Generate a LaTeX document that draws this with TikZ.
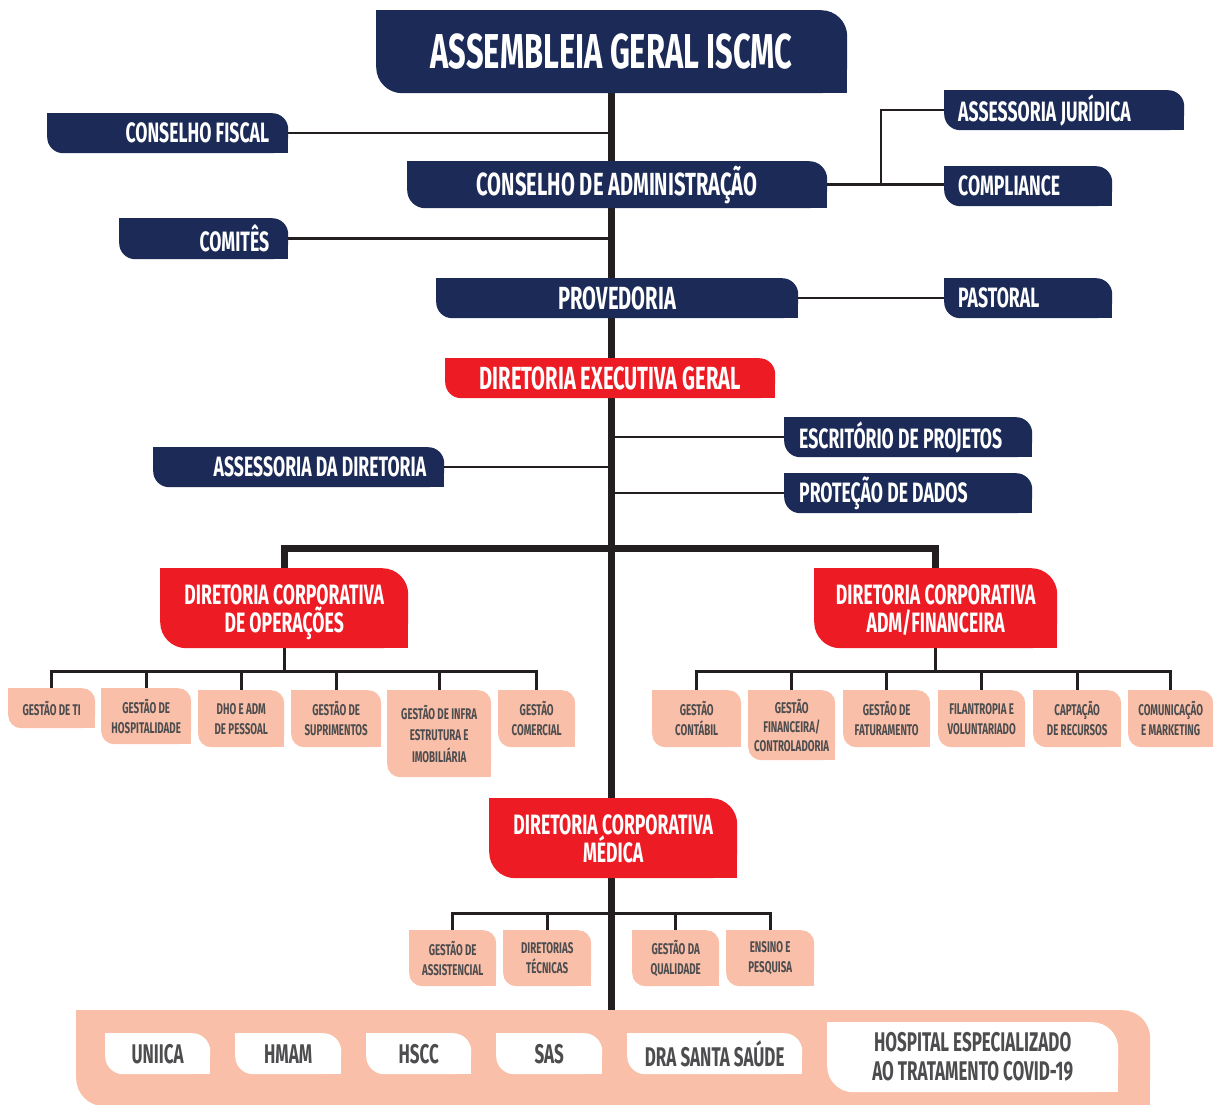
\documentclass[tikz,border=0pt]{standalone}
\usepackage{fontspec}
\newfontfamily\orgfont{Fira Sans}[FakeStretch=0.63]
\usetikzlibrary{backgrounds}

\definecolor{navy}{HTML}{1B2A56}
\definecolor{brandred}{HTML}{ED1C24}
\definecolor{salmon}{HTML}{F9BFA8}
\definecolor{darktext}{HTML}{4D4D4F}
\definecolor{linecol}{HTML}{231F20}

\tikzset{
  tab/.style 2 args={
    inner sep=0pt,
    path picture={
      \fill[#1, rounded corners=#2] (path picture bounding box.south west) rectangle (path picture bounding box.north east);
      \fill[#1] (path picture bounding box.north west) rectangle ++(#2,-#2);
      \fill[#1] (path picture bounding box.south east) rectangle ++(-#2,#2);
    }
  },
  navybox/.style={tab={navy}{#1}, anchor=north west, text=white, font={\orgfont\bfseries\fontsize{28}{30}\selectfont}},
  navybox/.default=16pt,
  navyleft/.style={navybox, align=flush left, inner xsep=14pt, minimum height=40pt, execute at begin node={\spaceskip=0pt\xspaceskip=0pt}},
  navyright/.style={navybox, align=flush right, inner xsep=19pt, minimum height=40pt, execute at begin node={\spaceskip=0pt\xspaceskip=0pt}},
  bigtext/.style={font={\orgfont\bfseries\fontsize{32}{34}\selectfont}},
  redbox/.style={tab={brandred}{#1}, anchor=north west, text=white, align=center, font={\orgfont\bfseries\fontsize{28}{28}\selectfont}},
  redbox/.default=26pt,
  subbox/.style={tab={salmon}{13pt}, anchor=north west, text=darktext, align=center, font={\orgfont\bfseries\fontsize{15.5}{20}\selectfont}},
  unitbox/.style={tab={white}{#1}, anchor=north west, text=darktext, align=center, font={\orgfont\bfseries\fontsize{27}{29}\selectfont}},
  unitbox/.default=18pt,
  spine/.style={line width=7pt, draw=linecol},
  link/.style={line width=2.5pt, draw=linecol},
  twig/.style={line width=3pt, draw=linecol}
}

\begin{document}
\begin{tikzpicture}[x=1pt, y=-1pt]
  \useasboundingbox (0,0) rectangle (1213,1105);

  % Governance
  \node[navybox=26pt, minimum width=471pt, minimum height=83pt, font={\orgfont\bfseries\fontsize{49}{52}\selectfont}] (assembleia) at (376,10) {ASSEMBLEIA GERAL ISCMC};
  \node[navyright, text width=203pt] (fiscal) at (47,113) {CONSELHO FISCAL};
  \node[navybox=18pt, bigtext, minimum width=420pt, minimum height=47pt] (conselho) at (407,161) {CONSELHO DE ADMINISTRAÇÃO};
  \node[navyleft, text width=212pt] (juridica) at (944,90) {ASSESSORIA JURÍDICA};
  \node[navyleft, text width=140pt] (compliance) at (944,166) {COMPLIANCE};
  \node[navyright, text width=131pt, minimum height=41pt] (comites) at (119,218) {COMITÊS};
  \node[navybox, bigtext, minimum width=362pt, minimum height=40pt] (provedoria) at (436,278) {PROVEDORIA};
  \node[navyleft, text width=140pt] (pastoral) at (944,278) {PASTORAL};

  % Executive board
  \node[redbox=16pt, bigtext, minimum width=330pt, minimum height=40pt] (executiva) at (445,358) {DIRETORIA EXECUTIVA GERAL};
  \node[navyleft, inner xsep=15pt, text width=218pt] (escritorio) at (784,417) {ESCRITÓRIO DE PROJETOS};
  \node[navyright, inner xsep=18pt, text width=255pt] (assessoria) at (153,447) {ASSESSORIA DA DIRETORIA};
  \node[navyleft, inner xsep=15pt, text width=218pt] (protecao) at (784,473) {PROTEÇÃO DE DADOS};

  % Corporate boards
  \node[redbox, minimum width=248pt, minimum height=80pt, text depth=-3pt] (operacoes) at (160,568) {DIRETORIA CORPORATIVA\\DE OPERAÇÕES};
  \node[redbox, minimum width=243pt, minimum height=80pt, text depth=-3pt] (financeira) at (814,568) {DIRETORIA CORPORATIVA\\ADM/FINANCEIRA};
  \node[redbox, minimum width=248pt, minimum height=80pt, text depth=-3pt] (medica) at (489,798) {DIRETORIA CORPORATIVA\\MÉDICA};

  % Operations units
  \node[subbox, minimum width=87pt, minimum height=40pt] (ti) at (8,688) {GESTÃO DE TI};
  \node[subbox, minimum width=90pt, minimum height=56pt] (hosp) at (101,688) {GESTÃO DE\\HOSPITALIDADE};
  \node[subbox, minimum width=86pt, minimum height=57pt] (dho) at (198,690) {DHO E ADM\\DE PESSOAL};
  \node[subbox, minimum width=90pt, minimum height=57pt] (supr) at (291,690) {GESTÃO DE\\SUPRIMENTOS};
  \node[subbox, minimum width=104pt, minimum height=87pt, font={\orgfont\bfseries\fontsize{15.5}{21.5}\selectfont}] (infra) at (387,690) {GESTÃO DE INFRA\\ESTRUTURA E\\IMOBILIÁRIA};
  \node[subbox, minimum width=77pt, minimum height=57pt] (comercial) at (498,690) {GESTÃO\\COMERCIAL};

  % Financial units
  \node[subbox, minimum width=89pt, minimum height=57pt] (contabil) at (652,690) {GESTÃO\\CONTÁBIL};
  \node[subbox, minimum width=87pt, minimum height=70pt, font={\orgfont\bfseries\fontsize{15.5}{19}\selectfont}] (finan) at (748,690) {GESTÃO\\FINANCEIRA/\\CONTROLADORIA};
  \node[subbox, minimum width=87pt, minimum height=57pt] (fatur) at (843,690) {GESTÃO DE\\FATURAMENTO};
  \node[subbox, minimum width=87pt, minimum height=57pt] (filan) at (938,690) {FILANTROPIA E\\VOLUNTARIADO};
  \node[subbox, minimum width=88pt, minimum height=57pt] (captacao) at (1033,690) {CAPTAÇÃO\\DE RECURSOS};
  \node[subbox, minimum width=85pt, minimum height=57pt] (comunic) at (1128,690) {COMUNICAÇÃO\\E MARKETING};

  % Medical units
  \node[subbox, minimum width=87pt, minimum height=56pt] (assist) at (409,930) {GESTÃO DE\\ASSISTENCIAL};
  \node[subbox, minimum width=88pt, minimum height=56pt] (tecnicas) at (503,930) {DIRETORIAS\\TÉCNICAS};
  \node[subbox, minimum width=87pt, minimum height=56pt] (qualidade) at (632,930) {GESTÃO DA\\QUALIDADE};
  \node[subbox, minimum width=88pt, minimum height=56pt] (ensino) at (726,930) {ENSINO E\\PESQUISA};

  % Network of hospitals
  \node[tab={salmon}{28pt}, anchor=north west, minimum width=1074pt, minimum height=96pt] (rede) at (76,1010) {};
  \node[unitbox, minimum width=105pt, minimum height=41pt] (uniica) at (105,1033) {UNIICA};
  \node[unitbox, minimum width=106pt, minimum height=41pt] (hmam) at (235,1033) {HMAM};
  \node[unitbox, minimum width=105pt, minimum height=41pt] (hscc) at (366,1033) {HSCC};
  \node[unitbox, minimum width=106pt, minimum height=41pt] (sas) at (496,1033) {SAS};
  \node[unitbox, minimum width=175pt, minimum height=41pt] (drasanta) at (627,1033) {DRA SANTA SAÚDE};
  \node[unitbox=26pt, minimum width=291pt, minimum height=70pt] (covid) at (827,1022) {HOSPITAL ESPECIALIZADO\\AO TRATAMENTO COVID-19};

  % Junctions
  \coordinate (jur) at (881,185);
  \coordinate (bar) at (611,548);
  \coordinate (opsbar) at (0,671);
  \coordinate (medbar) at (0,913);

  \begin{scope}[on background layer]
    % Main line
    \draw[spine] (assembleia.south) -- (assembleia.south |- rede.north);
    \draw[spine] (operacoes.north) |- (bar) -| (financeira.north);

    % Side links
    \draw[link] (fiscal.east) -- (fiscal.east -| assembleia.south);
    \draw[link] (comites.east) -- (comites.east -| assembleia.south);
    \draw[link] (conselho.east) -- (conselho.east -| compliance.west);
    \draw[link] (juridica.west) -| (jur);
    \draw[link] (provedoria.east) -- (provedoria.east -| pastoral.west);
    \draw[link] (escritorio.west) -- (escritorio.west -| assembleia.south);
    \draw[link] (protecao.west) -- (protecao.west -| assembleia.south);
    \draw[link] (assessoria.east) -- (assessoria.east -| assembleia.south);

    % Operations tree
    \draw[twig] (operacoes.south) -- (operacoes.south |- opsbar);
    \draw[twig] (ti.north) |- (comercial.north |- opsbar) -- (comercial.north);
    \foreach \n in {hosp, dho, supr, infra}
      \draw[twig] (\n.north) -- (\n.north |- opsbar);

    % Financial tree
    \draw[twig] (financeira.south) -- (financeira.south |- opsbar);
    \draw[twig] (contabil.north) |- (comunic.north |- opsbar) -- (comunic.north);
    \foreach \n in {finan, fatur, filan, captacao}
      \draw[twig] (\n.north) -- (\n.north |- opsbar);

    % Medical tree
    \draw[twig] (assist.north) |- (ensino.north |- medbar) -- (ensino.north);
    \foreach \n in {tecnicas, qualidade}
      \draw[twig] (\n.north) -- (\n.north |- medbar);
  \end{scope}

\end{tikzpicture}
\end{document}
